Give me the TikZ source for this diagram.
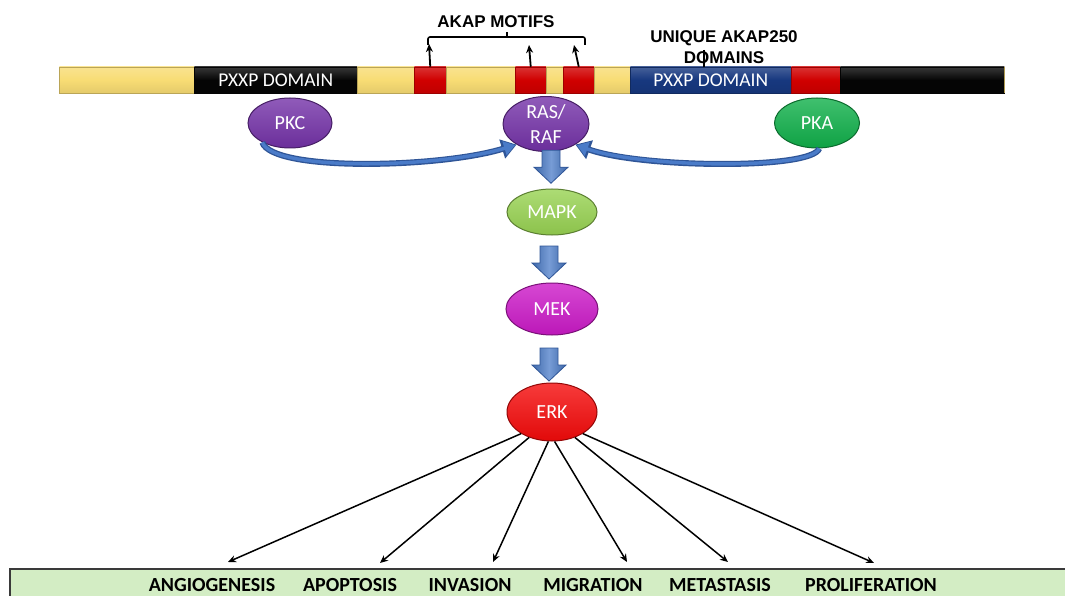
\documentclass[tikz,border=0pt]{standalone}
\usepackage{fontspec}
\setmainfont{Carlito}
\newfontfamily\arialf{Liberation Sans}
\usetikzlibrary{shapes.geometric,arrows.meta,calc}
\definecolor{ybar}{HTML}{F8DC74}
\definecolor{redbar}{HTML}{D00000}
\definecolor{bluebar}{HTML}{17387F}
\definecolor{blackbar}{HTML}{050505}
\definecolor{purp}{HTML}{7432A8}
\definecolor{pkagreen}{HTML}{10B04A}
\definecolor{mapkgreen}{HTML}{98D352}
\definecolor{mekmag}{HTML}{CC1AC8}
\definecolor{erkred}{HTML}{F50A0A}
\definecolor{arrowblue}{HTML}{4A7BC8}
\definecolor{arrowedge}{HTML}{2F5597}
\definecolor{boxgreen}{HTML}{D3EDC4}
\definecolor{boxedge}{HTML}{3A3A3A}
\tikzset{
  seg/.style={rectangle, inner sep=0pt, minimum height=26pt, anchor=west,
    top color=#1!80!white, bottom color=#1!92!black, middle color=#1,
    draw=#1!75!black, line width=0.5pt, text=white,
    font=\fontsize{19.5}{20}\selectfont},
  oval/.style={ellipse, inner sep=0pt, top color=#1!80!white, bottom color=#1!92!black,
    draw=#1!60!black, line width=1pt,
    text=white, font=\fontsize{20}{25}\selectfont, align=center},
  headlbl/.style={font=\arialf\bfseries\fontsize{17}{21}\selectfont, align=center, inner sep=0pt},
  outlbl/.style={font=\bfseries\fontsize{20}{22}\selectfont, inner sep=0pt},
  motif/.style={draw=black, line width=1.8pt, -{Stealth[length=8pt,width=7pt]}},
  curvedge/.style={draw=arrowedge, line width=6pt, -{Triangle[width=19pt,length=15pt]}},
  curvearr/.style={draw=arrowblue, line width=3.4pt, -{Triangle[width=14pt,length=11pt]}, shorten >=1.6pt},
  thinarr/.style={draw=black, line width=1.5pt, -{Stealth[length=8pt,width=7pt]}},
  pics/barrow/.style={code={
    \draw[left color=arrowblue!85!black, right color=arrowblue!85!black, middle color=arrowblue!75!white,
      draw=arrowedge, line width=0.8pt, line join=miter]
      (-9,-16) -- (9,-16) -- (9,1) -- (17,1) -- (0,17) -- (-17,1) -- (-9,1) -- cycle;}}
}
\begin{document}
\begin{tikzpicture}[x=1pt,y=-1pt]
\clip (0,0) rectangle (1065,596);
\fill[white] (0,0) rectangle (1065,596);

% protein bar
\node[seg=ybar, minimum width=135pt] (s1) at (59,80) {};
\node[seg=blackbar, minimum width=163pt] (s2) at (194,80) {PXXP DOMAIN};
\node[seg=ybar, minimum width=57pt] (s3) at (357,80) {};
\node[seg=redbar, minimum width=32pt] (s4) at (414,80) {};
\node[seg=ybar, minimum width=69pt] (s5) at (446,80) {};
\node[seg=redbar, minimum width=31pt] (s6) at (515,80) {};
\node[seg=ybar, minimum width=17pt] (s7) at (546,80) {};
\node[seg=redbar, minimum width=31pt] (s8) at (563,80) {};
\node[seg=ybar, minimum width=36pt] (s9) at (594,80) {};
\node[seg=bluebar, minimum width=161pt] (s10) at (630,80) {PXXP DOMAIN};
\node[seg=redbar, minimum width=49pt] (s11) at (791,80) {};
\node[seg=blackbar, minimum width=164pt] (s12) at (840,80) {};
\draw[ybar!70!black, line width=1pt] (s12.north east) -- (s12.south east);

% AKAP motifs
\node[headlbl] (akap) at (496,22) {AKAP MOTIFS};
\draw[line width=1.6pt, rounded corners=2pt] (428,45) -- (428,37) -- (585,37) -- (585,45);
\draw[line width=1.6pt] (507,37) -- (507,32);
\coordinate (m1) at (429,44);
\coordinate (m2) at (529,45);
\coordinate (m3) at (574,45);
\draw[motif] (s4.north) -- (m1);
\draw[motif] (s6.north) -- (m2);
\draw[motif] (s8.north) -- (m3);

% unique domains
\node[headlbl] (uniq) at (724,47) {UNIQUE AKAP250\\DOMAINS};
\coordinate (u) at (704,50);
\draw[line width=1.6pt] (u) -- (u |- s10.north);

% kinases
\node[oval=purp, minimum width=84pt, minimum height=50pt] (pkc) at (290,123) {PKC};
\node[oval=purp, minimum width=86pt, minimum height=50pt] (rasraf) at (546,124) {RAS/\\RAF};
\node[oval=pkagreen, minimum width=85pt, minimum height=50pt] (pka) at (817,123) {PKA};
\node[oval=mapkgreen, minimum width=90pt, minimum height=46pt] (mapk) at (552,212) {MAPK};
\node[oval=mekmag, minimum width=92pt, minimum height=52pt] (mek) at (552,309) {MEK};
\node[oval=erkred, minimum width=90pt, minimum height=58pt] (erk) at (552,412) {ERK};

% curved arrows
\draw[curvedge] (pkc.215) .. controls (272,172) and (440,168) .. (rasraf.215);
\draw[curvearr] (pkc.215) .. controls (272,172) and (440,168) .. (rasraf.215);
\draw[curvedge] (pka.275) .. controls (812,170) and (640,168) .. (rasraf.325);
\draw[curvearr] (pka.275) .. controls (812,170) and (640,168) .. (rasraf.325);

% block arrows
\pic at ($(rasraf.south)!0.5!(mapk.north)+(2,-4)$) {barrow};
\pic at ($(mapk.south)!0.5!(mek.north)+(-3,3)$) {barrow};
\pic at ($(mek.south)!0.5!(erk.north)+(-3,5)$) {barrow};

% outcomes box
\node[draw=boxedge, line width=1.6pt, fill=boxgreen, anchor=north west,
      minimum width=1080pt, minimum height=50pt, inner sep=0pt] (outbox) at (9,568) {};
\node[outlbl] (l1) at (212,585) {ANGIOGENESIS};
\node[outlbl] (l2) at (350,585) {APOPTOSIS};
\node[outlbl] (l3) at (470,585) {INVASION};
\node[outlbl] (l4) at (593,585) {MIGRATION};
\node[outlbl] (l5) at (720,585) {METASTASIS};
\node[outlbl] (l6) at (871,585) {PROLIFERATION};

% ERK fan-out
\coordinate (t1) at (228,562);
\coordinate (t2) at (380,563);
\coordinate (t3) at (493,562);
\coordinate (t4) at (627,562);
\coordinate (t5) at (728,562);
\coordinate (t6) at (874,563);
\draw[thinarr] (erk.215) -- (t1);
\draw[thinarr] (erk.228) -- (t2);
\draw[thinarr] (erk.263) -- (t3);
\draw[thinarr] (erk.275) -- (t4);
\draw[thinarr] (erk.312) -- (t5);
\draw[thinarr] (erk.325) -- (t6);
\end{tikzpicture}
\end{document}
